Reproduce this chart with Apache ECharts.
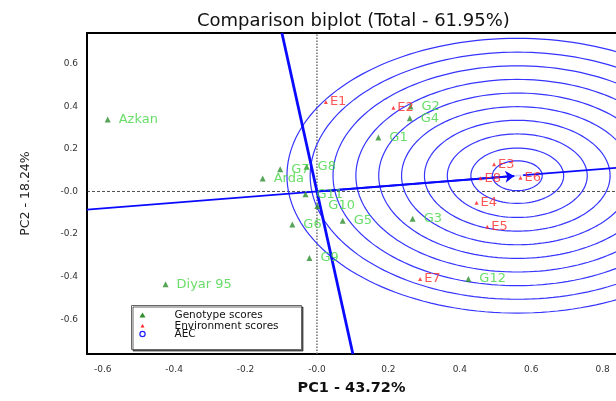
<!DOCTYPE html>
<html><head><meta charset="utf-8">
<script src="https://cdn.jsdelivr.net/npm/echarts@6/dist/echarts.min.js"></script>
<style>html,body{margin:0;padding:0;background:#fff}#c{width:616px;height:401px}</style>
</head><body><div id="c"></div>
<script>
// ---- data ----
const xTicks = [-0.6, -0.4, -0.2, 0, 0.2, 0.4, 0.6, 0.8];
const yTicks = [-0.6, -0.4, -0.2, 0, 0.2, 0.4, 0.6];
const xRange = [-0.644, 0.8375];
const yRange = [-0.763, 0.744];

const genoNames = ['Azkan', 'Diyar 95', 'Arda', 'G1', 'G2', 'G3', 'G4', 'G5', 'G6', 'G7', 'G8', 'G9', 'G10', 'G11', 'G12'];
const genoX = [-0.586, -0.424, -0.152, 0.172, 0.262, 0.268, 0.260, 0.072, -0.069, -0.103, -0.029, -0.021, 0.001, -0.032, 0.424];
const genoY = [0.338, -0.435, 0.061, 0.253, 0.399, -0.128, 0.344, -0.137, -0.155, 0.104, 0.116, -0.312, -0.068, -0.013, -0.411];

const envNames = ['E1', 'E2', 'E3', 'E4', 'E5', 'E6', 'E7', 'E8'];
const envX = [0.025, 0.214, 0.496, 0.447, 0.477, 0.570, 0.289, 0.458];
const envY = [0.420, 0.393, 0.128, -0.053, -0.166, 0.065, -0.411, 0.062];

const idealPoint = [0.561, 0.074];
const ringRadii = [0.07, 0.13, 0.196, 0.26, 0.324, 0.388, 0.452, 0.516, 0.58, 0.645];

const titleText = 'Comparison biplot (Total - 61.95%)';
const xName = 'PC1 - 43.72%';
const yName = 'PC2 - 18.24%';
const legendItems = ['Genotype scores', 'Environment scores', 'AEC'];

// ---- build ----
const FONT = 'DejaVu Sans';
const chart = echarts.init(document.getElementById('c'), null, {renderer: 'canvas'});

const ringSeries = ringRadii.map(r => {
  const pts = [];
  for (let a = 0; a <= 360; a += 2) {
    const t = a * Math.PI / 180;
    pts.push([idealPoint[0] + r * Math.cos(t), idealPoint[1] + r * Math.sin(t)]);
  }
  return {
    type: 'line', data: pts, showSymbol: false, symbol: 'none', silent: true, clip: true,
    lineStyle: {color: '#3535ff', width: 1.2}, z: 2, animation: false
  };
});

const [ix, iy] = idealPoint;
const aecLine = [[xRange[0], xRange[0] * iy / ix], [xRange[1], xRange[1] * iy / ix]];
const perpLine = [[-yRange[1] * iy / ix, yRange[1]], [-yRange[0] * iy / ix, yRange[0]]];

const tickFmt = v => (Math.abs(v) < 1e-9 ? '-0.0' : v.toFixed(1));
const border = {show: true, onZero: false, lineStyle: {color: '#000', width: 2}};

const option = {
  animation: false,
  backgroundColor: '#fff',
  title: {
    text: titleText, left: 192, top: 7,
    textStyle: {fontFamily: FONT, fontSize: 18, fontWeight: 'normal', color: '#111'}
  },
  grid: {left: 87, right: 0, top: 33, bottom: 38},
  xAxis: [{
    type: 'value', min: xRange[0], max: xRange[1],
    name: xName, nameLocation: 'middle', nameGap: 27,
    nameTextStyle: {fontFamily: FONT, fontSize: 14.5, fontWeight: 'bold', color: '#111'},
    axisLine: border, axisTick: {show: false}, splitLine: {show: false},
    axisLabel: {customValues: xTicks, formatter: tickFmt, fontFamily: FONT, fontSize: 9, color: '#333', margin: 11}
  }, {
    type: 'value', position: 'top', min: xRange[0], max: xRange[1],
    axisLine: border, axisTick: {show: false}, splitLine: {show: false}, axisLabel: {show: false}
  }],
  yAxis: {
    type: 'value', min: yRange[0], max: yRange[1],
    name: yName, nameLocation: 'middle', nameGap: 55,
    nameTextStyle: {fontFamily: FONT, fontSize: 12.5, color: '#222'},
    axisLine: border, axisTick: {show: false}, splitLine: {show: false},
    axisLabel: {customValues: yTicks, formatter: tickFmt, fontFamily: FONT, fontSize: 9, color: '#333', margin: 9}
  },
  series: [
    {type: 'line', data: [[0, yRange[0]], [0, yRange[1]]], showSymbol: false, symbol: 'none', silent: true,
     lineStyle: {color: '#666', width: 1.4, type: [1.5, 1.5]}, z: 1},
    {type: 'line', data: [[xRange[0], 0], [xRange[1], 0]], showSymbol: false, symbol: 'none', silent: true,
     lineStyle: {color: '#222', width: 0.8, type: [3, 2]}, z: 1},
    ...ringSeries,
    {type: 'line', data: aecLine, showSymbol: false, symbol: 'none', silent: true, clip: true,
     lineStyle: {color: '#0a0aff', width: 1.8}, z: 3,
     markLine: {silent: true, symbol: ['none', 'arrow'], symbolSize: 9, label: {show: false},
       lineStyle: {color: '#0a0aff', width: 2, type: 'solid'},
       data: [[{coord: [0, 0]}, {coord: [ix * 0.985, iy * 0.985]}]]}},
    {type: 'line', data: perpLine, showSymbol: false, symbol: 'none', silent: true, clip: true,
     lineStyle: {color: '#0a0aff', width: 2.8}, z: 3},
    {type: 'scatter', name: 'AEC', data: [idealPoint], symbol: 'emptyCircle', symbolSize: 10,
     itemStyle: {color: '#fff', borderColor: '#2020ff', borderWidth: 1.2}, z: 4},
    {type: 'scatter', name: 'Genotype scores', symbol: 'triangle', symbolSize: 6,
     data: genoNames.map((n, i) => ({name: n, value: [genoX[i], genoY[i]]})),
     itemStyle: {color: '#2c8f2c'}, z: 5,
     label: {show: true, position: 'right', distance: 8, formatter: p => p.name,
       fontFamily: FONT, fontSize: 13, color: '#44d444'}},
    {type: 'scatter', name: 'Environment scores', symbol: 'triangle', symbolSize: 4,
     data: envNames.map((n, i) => ({name: n, value: [envX[i], envY[i]]})),
     itemStyle: {color: '#ff2020'}, z: 5,
     label: {show: true, position: 'right', distance: 2, formatter: p => p.name,
       fontFamily: FONT, fontSize: 13, color: '#ff2a2a'}}
  ],
  graphic: [{
    type: 'group', left: 131, top: 305, z: 100,
    children: [
      {type: 'rect', shape: {x: 0, y: 0, width: 170, height: 44},
       style: {fill: '#fff', stroke: '#666', lineWidth: 1, shadowColor: 'rgba(0,0,0,0.6)', shadowOffsetX: 1.5, shadowOffsetY: 1.5}},
      {type: 'polygon', shape: {points: [[11, 7], [8, 12], [14, 12]]}, style: {fill: '#2c8f2c'}},
      {type: 'polygon', shape: {points: [[11, 18.5], [9, 22], [13, 22]]}, style: {fill: '#ff2020'}},
      {type: 'circle', shape: {cx: 11, cy: 28.5, r: 2.6}, style: {fill: 'none', stroke: '#2020ff', lineWidth: 1.2}},
      {type: 'text', x: 43, y: 9.5, style: {text: legendItems[0], font: '10.5px "DejaVu Sans"', fill: '#111', verticalAlign: 'middle'}},
      {type: 'text', x: 43, y: 20.5, style: {text: legendItems[1], font: '10.5px "DejaVu Sans"', fill: '#111', verticalAlign: 'middle'}},
      {type: 'text', x: 43, y: 28.5, style: {text: legendItems[2], font: '10.5px "DejaVu Sans"', fill: '#111', verticalAlign: 'middle'}}
    ]
  }]
};
chart.setOption(option);
</script>
</body></html>
